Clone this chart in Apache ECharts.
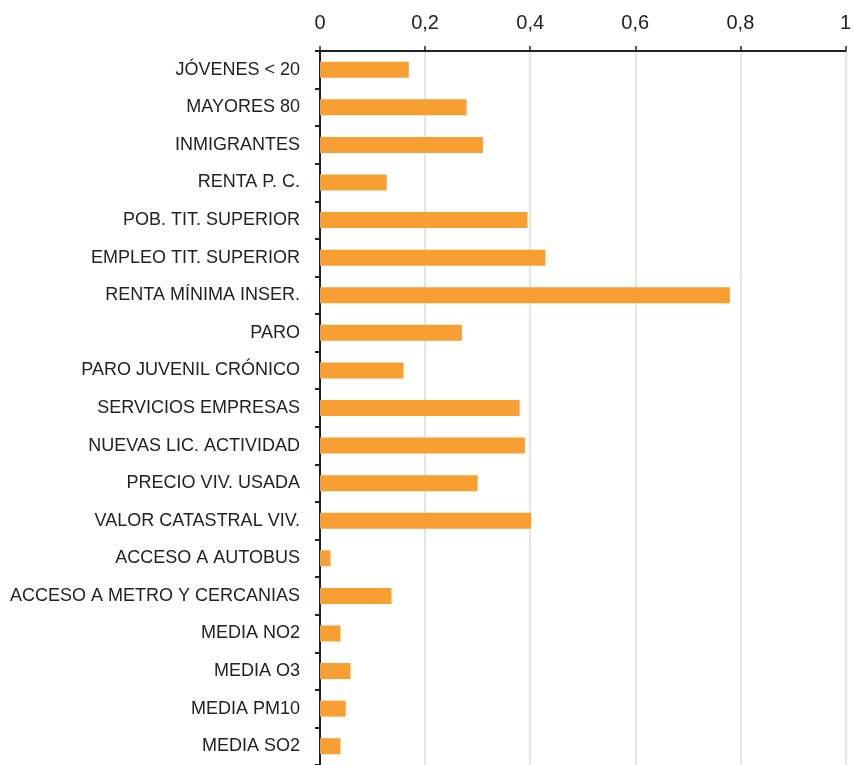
<!DOCTYPE html>
<html>
<head>
<meta charset="utf-8">
<script src="https://cdn.jsdelivr.net/npm/echarts@6/dist/echarts.min.js"></script>
<style>
html,body{margin:0;padding:0;background:#fff;}
#chart{width:854px;height:765px;}
</style>
</head>
<body>
<div id="chart"></div>
<script>
const categories = [
  'JÓVENES < 20',
  'MAYORES 80',
  'INMIGRANTES',
  'RENTA P. C.',
  'POB. TIT. SUPERIOR',
  'EMPLEO TIT. SUPERIOR',
  'RENTA MÍNIMA INSER.',
  'PARO',
  'PARO JUVENIL CRÓNICO',
  'SERVICIOS EMPRESAS',
  'NUEVAS LIC. ACTIVIDAD',
  'PRECIO VIV. USADA',
  'VALOR CATASTRAL VIV.',
  'ACCESO A AUTOBUS',
  'ACCESO A METRO Y CERCANIAS',
  'MEDIA NO2',
  'MEDIA O3',
  'MEDIA PM10',
  'MEDIA SO2'
];
const values = [
  0.169, 0.279, 0.310, 0.127, 0.395, 0.429, 0.780, 0.270, 0.159, 0.380,
  0.390, 0.300, 0.402, 0.020, 0.136, 0.039, 0.058, 0.049, 0.039
];
const xTicks = [0, 0.2, 0.4, 0.6, 0.8, 1];

const chart = echarts.init(document.getElementById('chart'), null, {renderer: 'canvas'});
chart.setOption({
  animation: false,
  backgroundColor: '#ffffff',
  grid: {left: 320, right: 8.5, top: 51, bottom: -3, containLabel: false},
  xAxis: {
    type: 'value',
    position: 'top',
    min: xTicks[0],
    max: xTicks[xTicks.length - 1],
    interval: 0.2,
    axisLine: {show: true, lineStyle: {color: '#222', width: 2}},
    axisTick: {show: true, length: 5, lineStyle: {color: '#222', width: 1.5}},
    axisLabel: {
      margin: 18,
      color: '#222',
      fontSize: 20,
      fontFamily: 'Liberation Sans, Arial, sans-serif',
      formatter: v => String(Math.round(v * 10) / 10).replace('.', ',')
    },
    splitLine: {show: true, lineStyle: {color: '#e5e5e5', width: 2}}
  },
  yAxis: {
    type: 'category',
    inverse: true,
    data: categories,
    axisLine: {show: true, lineStyle: {color: '#222', width: 2}},
    axisTick: {show: true, length: 5, lineStyle: {color: '#222', width: 2}},
    axisLabel: {
      margin: 20,
      color: '#222',
      fontSize: 18,
      fontFamily: 'Liberation Sans, Arial, sans-serif',
      padding: [3, 0, 0, 0]
    },
    splitLine: {show: false}
  },
  series: [{
    type: 'bar',
    data: values,
    barWidth: 16,
    itemStyle: {color: '#f79f33'}
  }]
});
</script>
</body>
</html>
